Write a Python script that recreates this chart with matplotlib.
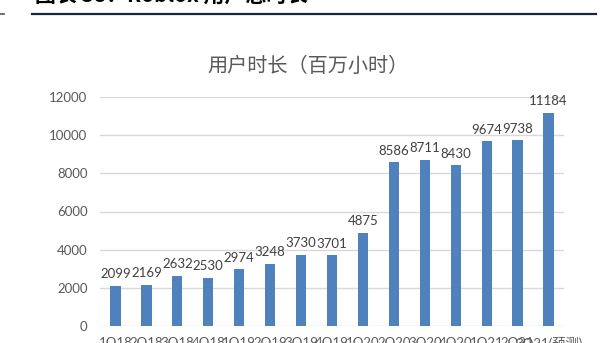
import matplotlib
matplotlib.use('Agg')
from matplotlib import pyplot as plt
from matplotlib.lines import Line2D

plt.rcParams['font.family'] = ['Lato', 'Noto Sans CJK SC', 'DejaVu Sans']

quarters = ['1Q18', '2Q18', '3Q18', '4Q18', '1Q19', '2Q19', '3Q19', '4Q19',
            '1Q20', '2Q20', '3Q20', '4Q20', '1Q21', '2Q21', '3Q21(预测)']
hours = [2099, 2169, 2632, 2530, 2974, 3248, 3730, 3701,
         4875, 8586, 8711, 8430, 9674, 9738, 11184]
y_ticks = [0, 2000, 4000, 6000, 8000, 10000, 12000]

W, H = 600, 343
fig = plt.figure(figsize=(W / 100, H / 100), dpi=100)

# axes box in pixels: left 100, right 564, y=0 at 326, y=12000 at 97
left, right, bottom, top = 100, 564, 326, 97
ax = fig.add_axes([left / W, 1 - bottom / H, (right - left) / W, (bottom - top) / H])

x = range(len(quarters))
ax.bar(x, hours, width=0.33, color='#4F81BD', zorder=3)
for xi, v in zip(x, hours):
    ax.annotate(f'{v}', (xi, v), xytext=(0, 4), textcoords='offset points',
                ha='center', va='bottom', fontsize=9.5, color='#404040')

ax.set_xlim(-0.5, len(quarters) - 0.5)
ax.set_ylim(0, 12000)
ax.set_yticks(y_ticks)
ax.set_xticks(list(x))
ax.set_xticklabels(quarters, fontsize=9.5, color='#595959')
ax.tick_params(axis='y', labelsize=9.5, labelcolor='#595959', length=0, pad=9)
ax.tick_params(axis='x', length=0, pad=8)
ax.grid(axis='y', color='#d9d9d9', linewidth=1, zorder=0)
for s in ax.spines.values():
    s.set_visible(False)

fig.text(308 / W, 1 - 66 / H, '用户时长（百万小时）', ha='center', va='center',
         fontsize=14.5, color='#595959', family=['Noto Sans CJK SC', 'DejaVu Sans'])

# report header, partly above the page edge
fig.text(35 / W, 1 - 7 / H, '图表 38：Roblox 用户总时长', ha='left', va='bottom',
         fontsize=15, fontweight='bold', color='black',
         family=['Noto Sans CJK SC', 'DejaVu Sans'])
fig.add_artist(Line2D([32 / W, 596 / W], [1 - 13.5 / H] * 2, color='#1c2540', linewidth=1.6))
fig.add_artist(Line2D([0, 4 / W], [1 - 14 / H] * 2, color='#555555', linewidth=1.2))

fig.savefig('out.png', dpi=100)
